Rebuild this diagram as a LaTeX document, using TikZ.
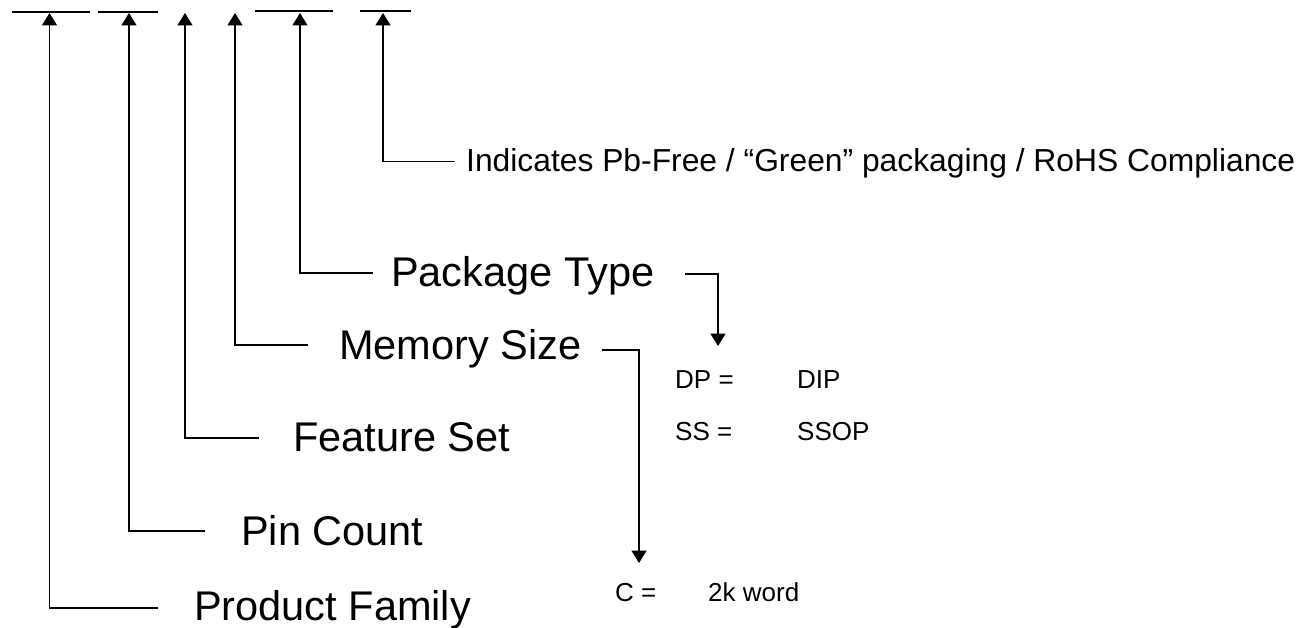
\documentclass[tikz,border=0pt]{standalone}
\usepackage{fontspec}
\setmainfont{Liberation Sans}
\usetikzlibrary{arrows.meta}
\begin{document}
\begin{tikzpicture}[x=1pt,y=-1pt,
  big/.style={anchor=base west, inner sep=0pt, font=\fontsize{41.5}{48}\selectfont},
  mid/.style={anchor=base west, inner sep=0pt, font=\fontsize{31.8}{38}\selectfont},
  small/.style={anchor=base west, inner sep=0pt, font=\fontsize{26}{31}\selectfont},
  bar/.style={line width=2pt},
  conn/.style={line width=1.6pt, -{Triangle[width=15pt,length=12.5pt]}},
  plain/.style={line width=1.6pt}]
\useasboundingbox (0,0) rectangle (1313,628);
% top bars
\draw[bar] (12,12) -- (90,12);
\draw[bar] (98,12) -- (158,12);
\draw[bar] (255,11) -- (333,11);
\draw[bar] (360,11) -- (411,11);
% arrow tip coordinates
\coordinate (t1) at (49.5,13);
\coordinate (t2) at (129,13);
\coordinate (t3) at (185,13);
\coordinate (t4) at (235,13);
\coordinate (t5) at (300,13);
\coordinate (t6) at (383,13);
% labels
\node[mid] (ind) at (466,171.7) {Indicates Pb-Free / “Green” packaging / RoHS Compliance};
\node[big] (pkg) at (391,286) {Package Type};
\node[big] (mem) at (339,359) {Memory Size};
\node[big] (feat) at (293,451) {Feature Set};
\node[big] (pin) at (241,545) {Pin Count};
\node[big] (pf) at (194,620) {Product Family};
\node[small] (dp) at (675,388) {DP =};
\node[small] (dip) at (797,388) {DIP};
\node[small] (ss) at (675,440) {SS =};
\node[small] (ssop) at (797,440) {SSOP};
\node[small] (c) at (615,601) {C =};
\node[small] (kw) at (708,601) {2k word};
% connector start points
\coordinate (e1) at (158,608);
\coordinate (e2) at (205,531);
\coordinate (e3) at (259,438);
\coordinate (e4) at (308,345);
\coordinate (e5) at (373,273);
\coordinate (e6) at (455,161.5);
\draw[conn] (e1) -| (t1);
\draw[conn] (e2) -| (t2);
\draw[conn] (e3) -| (t3);
\draw[conn] (e4) -| (t4);
\draw[conn] (e5) -| (t5);
\draw[conn] (e6) -| (t6);
% right connectors
\coordinate (pr) at (685,274);
\coordinate (pt) at (718,346);
\coordinate (mr) at (602,350);
\coordinate (mt) at (639,563);
\draw[conn] (pr) -| (pt);
\draw[conn] (mr) -| (mt);
\end{tikzpicture}
\end{document}
